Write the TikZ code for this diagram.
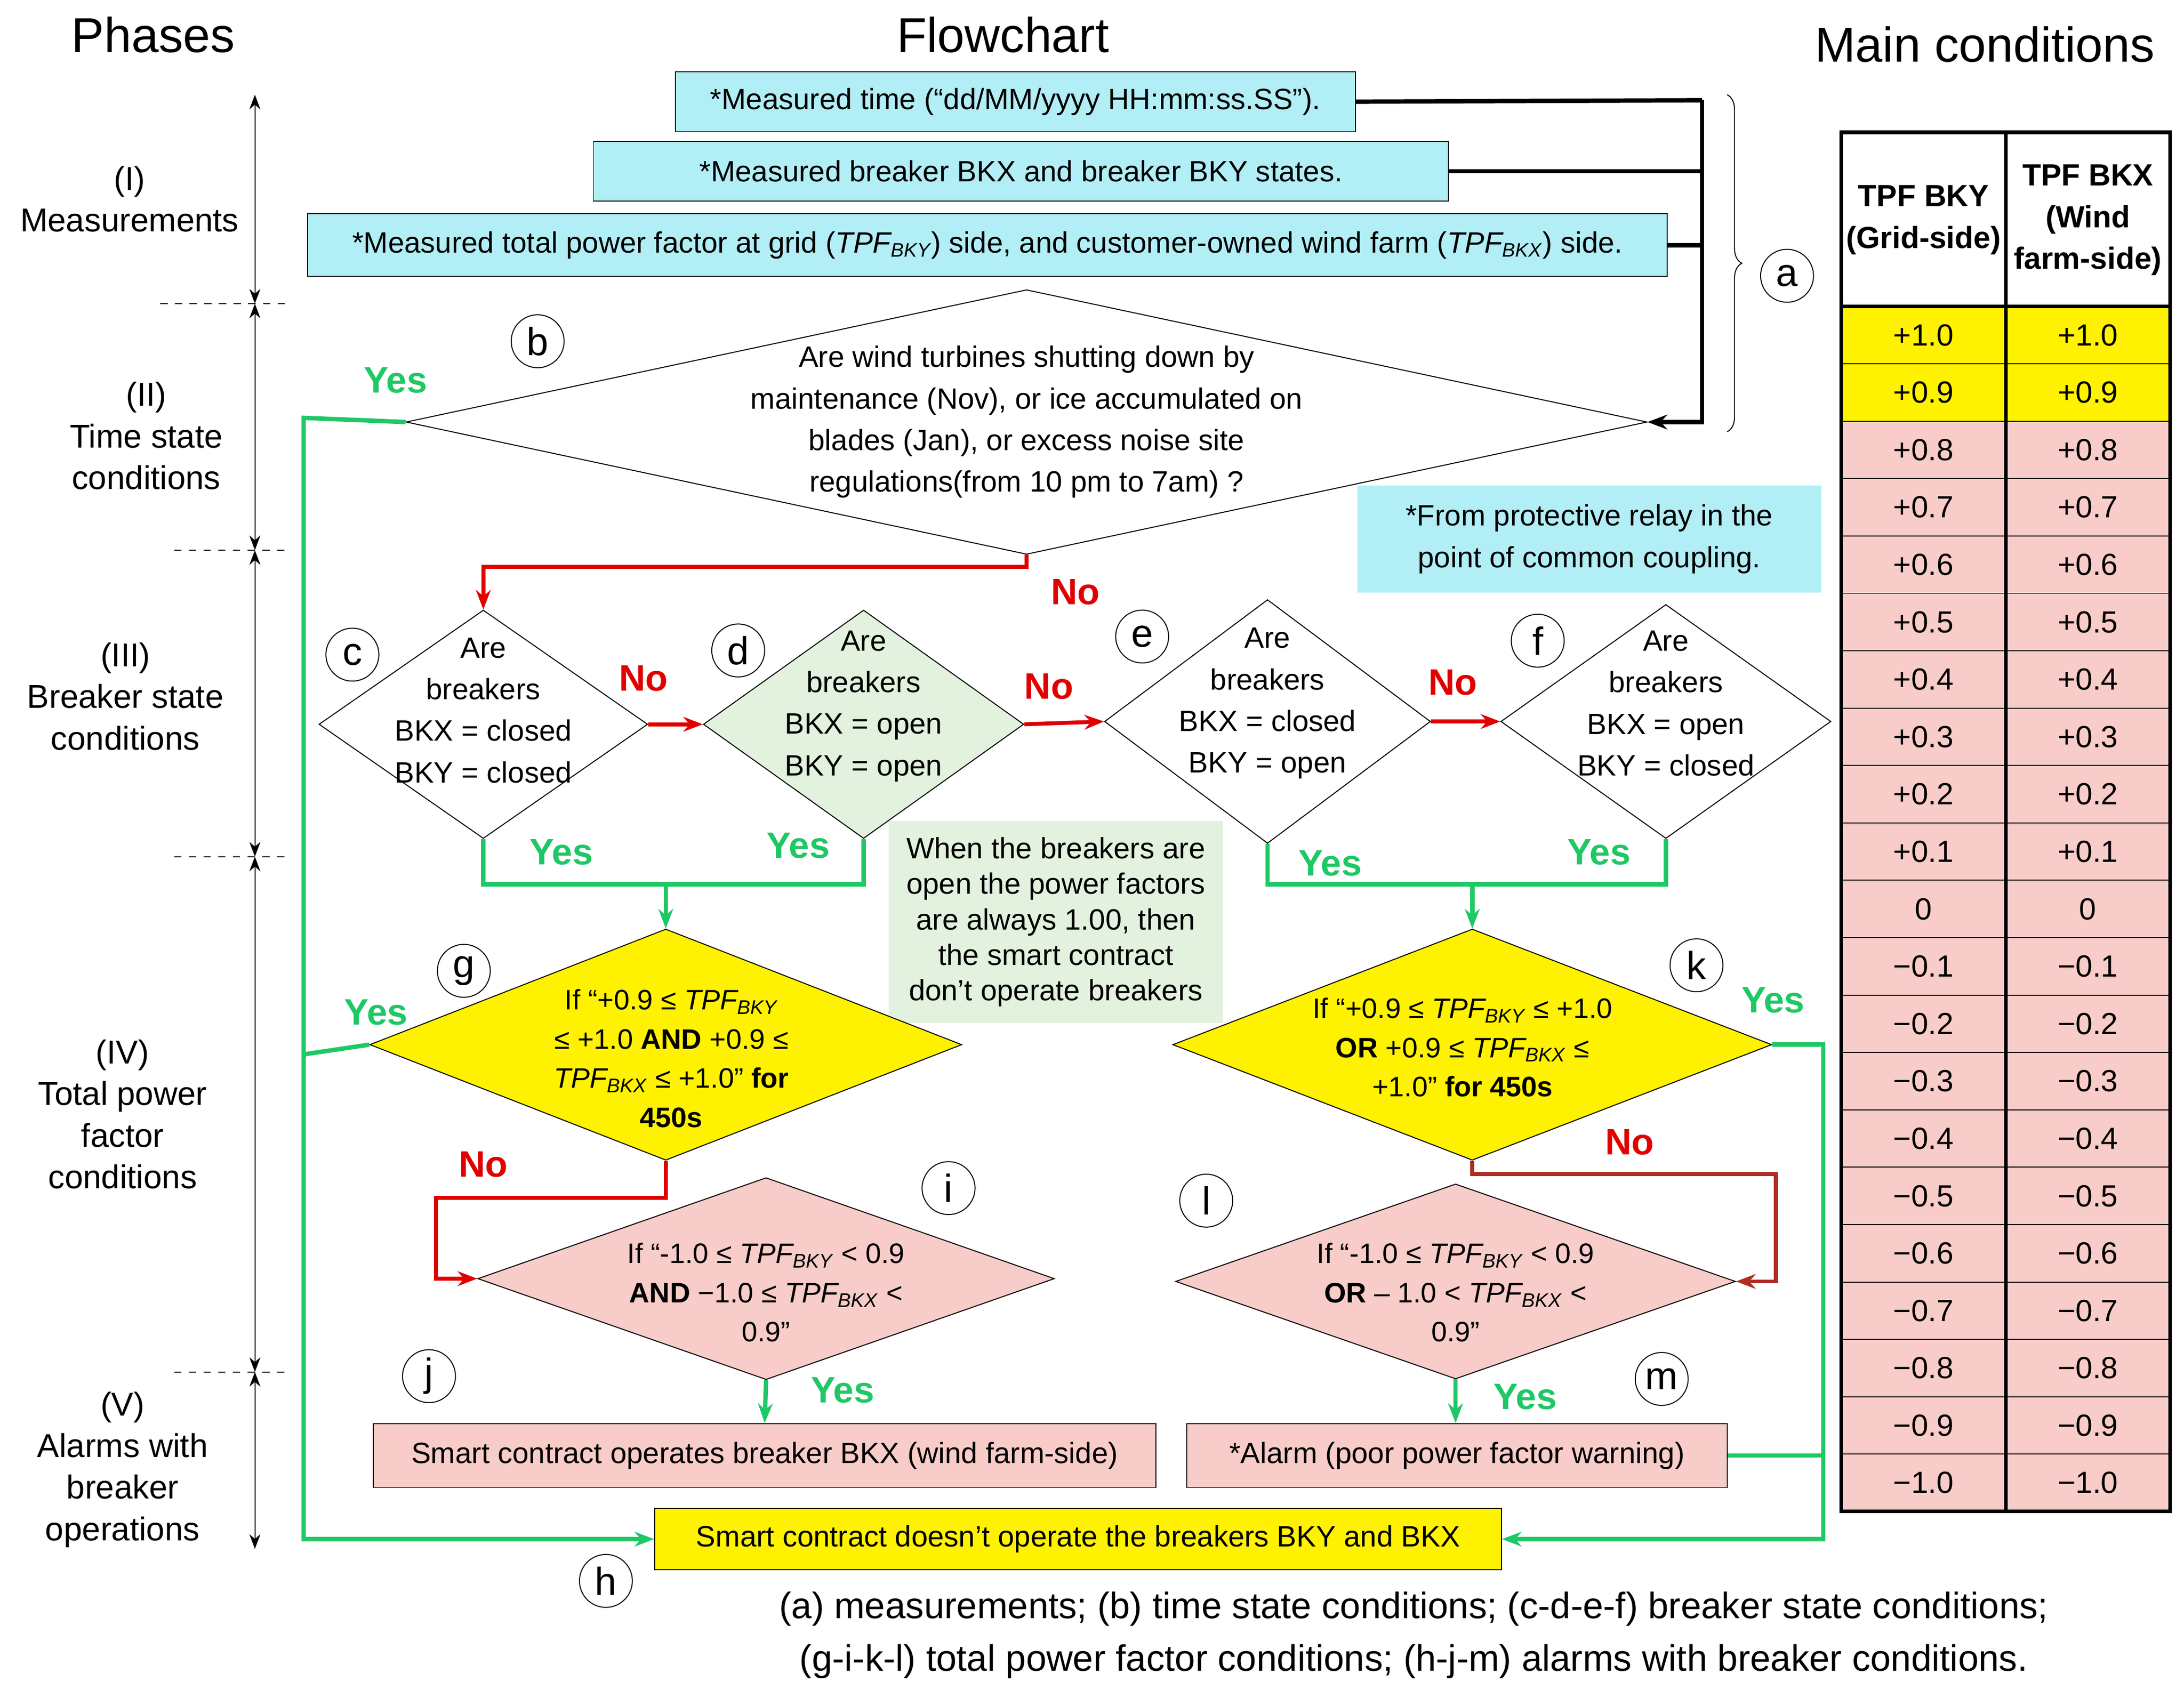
\documentclass[tikz,border=0pt]{standalone}
\usepackage{fontspec}
\setmainfont{Liberation Sans}
\usetikzlibrary{shapes.geometric,arrows.meta,decorations.pathreplacing}
\definecolor{cyanbox}{RGB}{178,238,246}
\definecolor{greenbox}{RGB}{226,242,222}
\definecolor{pinkbox}{RGB}{248,204,200}
\definecolor{yesgreen}{RGB}{30,200,100}
\definecolor{nored}{RGB}{225,0,0}
\definecolor{darkno}{RGB}{175,45,35}
\tikzset{
  dia/.style n args={3}{diamond, draw, fill=#1, minimum width=#2*0.02cm, minimum height=#3*0.02cm, inner sep=0pt},
  txt/.style={align=center, font=\fontsize{12}{17}\selectfont},
  box/.style={draw, fill=#1, font=\fontsize{12}{14}\selectfont, inner sep=0pt},
  circ/.style={circle, draw, font=\fontsize{16}{16}\selectfont, inner sep=0pt, minimum size=0.76cm},
  yes/.style={text=yesgreen, font=\bfseries\fontsize{15}{15}\selectfont},
  no/.style={text=nored, font=\bfseries\fontsize{15}{15}\selectfont},
  gline/.style={yesgreen, line width=1.8pt},
  rline/.style={nored, line width=1.6pt},
  arr/.style={-{Stealth[length=8pt]}},
  head/.style={font=\fontsize{20}{20}\selectfont},
  phase/.style={align=center, font=\fontsize{13.5}{17}\selectfont},
}
\newcommand{\tpf}[1]{$\mathit{TPF}_{\mathit{#1}}$}
\begin{document}
\begin{tikzpicture}[x=0.02cm,y=-0.02cm]
\useasboundingbox (0,0) rectangle (1568,1219);
% headers
\node[head] at (110,25) {Phases};
\node[head] at (720,25) {Flowchart};
\node[head] at (1425,32) {Main conditions};

% phases
\foreach \ya/\yb in {68/218,218/395,395/615,615/985,985/1112}
  \draw[<->, >={Stealth[length=6pt]}] (183,\ya) -- (183,\yb);
\foreach \yy/\xa in {218/115,395/125,615/125,985/125}
  \draw[dashed] (\xa,\yy) -- (205,\yy);
\node[phase] at (93,143) {(I)\\Measurements};
\node[phase] at (105,313) {(II)\\Time state\\conditions};
\node[phase] at (90,500) {(III)\\Breaker state\\conditions};
\node[phase] at (88,800) {(IV)\\Total power\\factor\\conditions};
\node[phase] at (88,1055) {(V)\\Alarms with\\breaker\\operations};

% measurements
\node[box=cyanbox, minimum width=488*0.02cm, minimum height=43*0.02cm] (m1) at (729,73) {*Measured time (“dd/MM/yyyy HH:mm:ss.SS”).};
\node[box=cyanbox, minimum width=614*0.02cm, minimum height=43*0.02cm] (m2) at (733,123) {*Measured breaker BKX and breaker BKY states.};
\node[box=cyanbox, minimum width=976*0.02cm, minimum height=45*0.02cm] (m3) at (709,176) {*Measured total power factor at grid (\tpf{BKY}) side, and customer-owned wind farm (\tpf{BKX}) side.};
\coordinate (jn) at (1222,72);

% time state
\node[dia={white}{891}{190}] (b) at (737,303) {};
\node[txt] at (737,303) {Are wind turbines shutting down by\\maintenance (Nov), or ice accumulated on\\blades (Jan), or excess noise site\\regulations(from 10 pm to 7am) ?};
\draw[line width=1.8pt] (m1.east) -- (jn);
\draw[line width=1.8pt] (m2.east) -- (m2.east -| jn);
\draw[line width=1.8pt] (m3.east) -- (m3.east -| jn);
\draw[line width=1.8pt, arr] (jn) |- (b.east);
\draw[decorate, decoration={brace, amplitude=6pt}] (1240,68) -- (1240,310);
\node[circ] at (1283,198) {a};
\node[circ] at (386,245) {b};

% breaker states
\node[dia={white}{236}{164}] (c) at (347,520) {};
\node[dia={greenbox}{230}{164}] (d) at (620,520) {};
\node[dia={white}{234}{175}] (e) at (910,518) {};
\node[dia={white}{237}{168}] (f) at (1196,518) {};
\node[txt] at (347,510) {Are\\breakers\\BKX = closed\\BKY = closed};
\node[txt] at (620,507) {Are\\breakers\\BKX = open\\BKY = open};
\node[txt] at (910,505) {Are\\breakers\\BKX = closed\\BKY = open};
\node[txt] at (1196,505) {Are\\breakers\\BKX = open\\BKY = closed};
\node[circ] at (253,470) {c};
\node[circ] at (530,467) {d};
\node[circ] at (820,457) {e};
\node[circ] at (1104,460) {f};
\draw[rline, arr] (b.south) -- (737,407) -| (c.north);
\node[no] at (772,425) {No};
\draw[rline, arr] (c.east) -- (d.west);
\draw[rline, arr] (d.east) -- (e.west);
\draw[rline, arr] (e.east) -- (f.west);
\node[no] at (462,487) {No};
\node[no] at (753,493) {No};
\node[no] at (1043,490) {No};
\node[draw=none, fill=cyanbox, txt, minimum width=333*0.02cm, minimum height=77*0.02cm] at (1141,387) {*From protective relay in the\\point of common coupling.};
\node[draw=none, fill=greenbox, txt, minimum width=240*0.02cm, minimum height=145*0.02cm, font=\fontsize{12}{14.5}\selectfont] at (758,662) {When the breakers are\\open the power factors\\are always 1.00, then\\the smart contract\\don't operate breakers};

% power factor
\node[dia={yellow}{425}{166}] (g) at (478,750) {};
\node[dia={yellow}{430}{166}] (k) at (1057,750) {};
\node[dia={pinkbox}{414}{145}] (i) at (550,918) {};
\node[dia={pinkbox}{402}{140}] (l) at (1045,920) {};
\node[txt, font=\fontsize{11.5}{16}\selectfont] at (482,760) {If “+0.9 ≤ \tpf{BKY}\\≤ +1.0 \textbf{AND} +0.9 ≤\\\tpf{BKX} ≤ +1.0” \textbf{for}\\\textbf{450s}};
\node[txt, font=\fontsize{11.5}{16}\selectfont] at (1050,752) {If “+0.9 ≤ \tpf{BKY} ≤ +1.0\\\textbf{OR} +0.9 ≤ \tpf{BKX} ≤\\+1.0” \textbf{for 450s}};
\node[txt, font=\fontsize{11.5}{16}\selectfont] at (550,928) {If “-1.0 ≤ \tpf{BKY} < 0.9\\\textbf{AND} −1.0 ≤ \tpf{BKX} <\\0.9”};
\node[txt, font=\fontsize{11.5}{16}\selectfont] at (1045,928) {If “-1.0 ≤ \tpf{BKY} < 0.9\\\textbf{OR} – 1.0 < \tpf{BKX} <\\0.9”};
\node[circ] at (333,697) {g};
\node[circ] at (1218,693) {k};
\node[circ] at (681,853) {i};
\node[circ] at (866,862) {l};
\draw[gline, arr] (c.south) |- (478,635) -- (g.north);
\draw[gline] (d.south) |- (478,635);
\draw[gline, arr] (e.south) |- (1057,635) -- (k.north);
\draw[gline] (f.south) |- (1057,635);
\node[yes] at (403,612) {Yes};
\node[yes] at (573,607) {Yes};
\node[yes] at (955,620) {Yes};
\node[yes] at (1148,612) {Yes};
\draw[rline, arr] (g.south) |- (313,860) |- (i.west);
\node[no] at (347,836) {No};
\draw[darkno, line width=1.6pt, arr] (k.south) |- (1275,843) |- (l.east);
\node[no] at (1170,820) {No};

% alarms
\node[box=pinkbox, minimum width=562*0.02cm, minimum height=46*0.02cm] (j) at (549,1045) {Smart contract operates breaker BKX (wind farm-side)};
\node[box=pinkbox, minimum width=388*0.02cm, minimum height=46*0.02cm] (m) at (1046,1045) {*Alarm (poor power factor warning)};
\node[box=yellow, minimum width=608*0.02cm, minimum height=44*0.02cm] (h) at (774,1105) {Smart contract doesn’t operate the breakers BKY and BKX};
\node[circ] at (308,988) {j};
\node[circ] at (1193,990) {m};
\node[circ] at (435,1135) {h};
\draw[gline, arr] (i.south) -- (j.north);
\node[yes] at (605,998) {Yes};
\draw[gline, arr] (l.south) -- (m.north -| l.south);
\node[yes] at (1095,1003) {Yes};
\draw[gline, arr] (b.west) -- (218,300) |- (h.west);
\node[yes] at (284,273) {Yes};
\draw[gline] (g.west) -- (218,757);
\node[yes] at (270,727) {Yes};
\draw[gline, arr] (k.east) -- (1309,750) |- (h.east);
\draw[gline] (m.east) -- (1309,1045);
\node[yes] at (1273,718) {Yes};

% caption
\node[font=\fontsize{15}{15}\selectfont] at (1015,1155) {(a) measurements; (b) time state conditions; (c-d-e-f) breaker state conditions;};
\node[font=\fontsize{15}{15}\selectfont] at (1015,1193) {(g-i-k-l) total power factor conditions; (h-j-m) alarms with breaker conditions.};

% table
\foreach \v [count=\n] in {+1.0,+0.9,+0.8,+0.7,+0.6,+0.5,+0.4,+0.3,+0.2,+0.1,0,−0.1,−0.2,−0.3,−0.4,−0.5,−0.6,−0.7,−0.8,−0.9,−1.0} {
  \pgfmathsetmacro{\ya}{220+(\n-1)*41.2}
  \pgfmathsetmacro{\yb}{220+\n*41.2}
  \ifnum\n<3 \def\cf{yellow}\else\def\cf{pinkbox}\fi
  \draw[fill=\cf] (1322,\ya) rectangle (1440,\yb);
  \draw[fill=\cf] (1440,\ya) rectangle (1558,\yb);
  \node[font=\fontsize{12.5}{12.5}\selectfont] at (1381,{(\ya+\yb)/2}) {\v};
  \node[font=\fontsize{12.5}{12.5}\selectfont] at (1499,{(\ya+\yb)/2}) {\v};
}
\node[align=center, font=\bfseries\fontsize{12.5}{17}\selectfont] at (1381,158) {TPF BKY\\(Grid-side)};
\node[align=center, font=\bfseries\fontsize{12.5}{17}\selectfont] at (1499,158) {TPF BKX\\(Wind\\farm-side)};
\draw[line width=1.5pt] (1322,95) rectangle (1558,1085);
\draw[line width=1.5pt] (1440,95) -- (1440,1085);
\draw[line width=1.5pt] (1322,220) -- (1558,220);
\end{tikzpicture}
\end{document}
